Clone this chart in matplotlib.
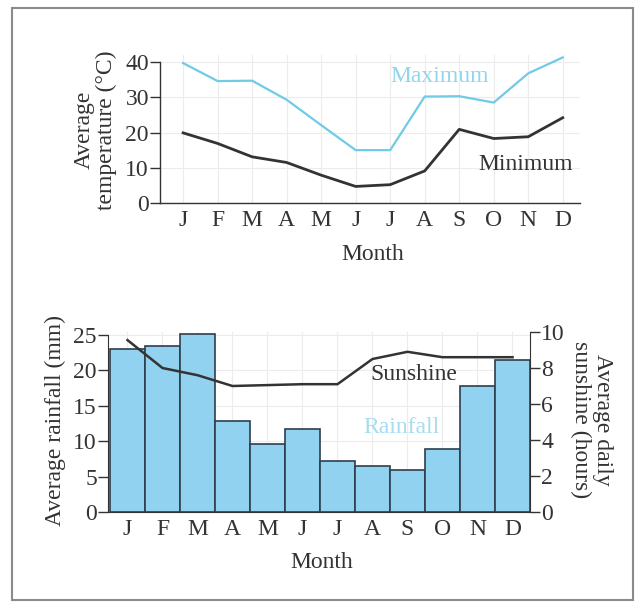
import matplotlib
matplotlib.use("Agg")
import matplotlib.pyplot as plt
from matplotlib.patches import Rectangle

plt.rcParams['font.family'] = ['Liberation Serif', 'DejaVu Serif']

months = ['J', 'F', 'M', 'A', 'M', 'J', 'J', 'A', 'S', 'O', 'N', 'D']
temp_max = [39.7, 34.6, 34.7, 29.3, 22.1, 15.0, 15.0, 30.2, 30.3, 28.5, 36.8, 41.3]
temp_min = [19.9, 16.9, 13.1, 11.5, 7.9, 4.7, 5.2, 9.1, 20.9, 18.3, 18.8, 24.2]
rainfall = [23.0, 23.4, 25.1, 12.8, 9.6, 11.7, 7.2, 6.5, 5.9, 8.9, 17.8, 21.4]
sunshine = [9.55, 8.0, 7.6, 7.0, 7.05, 7.1, 7.1, 8.5, 8.9, 8.6, 8.6, 8.6]
temp_ticks = [0, 10, 20, 30, 40]
rain_ticks = [0, 5, 10, 15, 20, 25]
sun_ticks = [0, 2, 4, 6, 8, 10]

W, H = 635, 604
fig = plt.figure(figsize=(W / 100, H / 100), dpi=100)

def fx(px):
    return px / W

def fy(py):
    return 1 - py / H

DARK = '#333333'
LBLUE = '#6fcbe6'
BARC = '#92d2f1'
GRID = '#ececec'
FS = 17
x = list(range(len(months)))

# ---------------- top chart ----------------
ax1 = fig.add_axes([fx(160), fy(203), fx(580) - fx(160), fy(55) - fy(203)])
ax1.plot(x, temp_max, color=LBLUE, lw=1.6)
ax1.plot(x, temp_min, color=DARK, lw=2.0)
ax1.set_xlim(-0.67, 11.5)
ax1.set_ylim(0, 42)
ax1.set_yticks(temp_ticks)
ax1.set_xticks(x)
ax1.set_xticklabels(months)
for s in ['top', 'right']:
    ax1.spines[s].set_visible(False)
ax1.spines['left'].set_bounds(0, 40)
for s in ['left', 'bottom']:
    ax1.spines[s].set_color(DARK)
    ax1.spines[s].set_linewidth(1.0)
ax1.tick_params(axis='y', length=7, width=1, color=DARK, labelsize=FS, labelcolor=DARK, pad=1)
ax1.tick_params(axis='x', length=0, labelsize=FS, labelcolor=DARK, pad=5)
ax1.grid(True, color=GRID, lw=0.8)
ax1.set_axisbelow(True)
ax1.text(6.0, 36.0, 'Maximum', color='#8fd6ee', fontsize=FS, ha='left', va='center')
ax1.text(8.55, 10.8, 'Minimum', color=DARK, fontsize=FS, ha='left', va='center')

fig.text(fx(84), fy(130), 'Average', rotation=90, fontsize=FS, color=DARK, ha='center', va='center')
fig.text(fx(106), fy(130), 'temperature (°C)', rotation=90, fontsize=FS, color=DARK, ha='center', va='center')
fig.text(fx(373), fy(255), 'Month', fontsize=FS, color=DARK, ha='center', va='center')

# ---------------- bottom chart ----------------
ax2 = fig.add_axes([fx(108), fy(512), fx(530) - fx(108), fy(332) - fy(512)])
ax2.bar(x, rainfall, width=1.0, color=BARC, edgecolor='#2e3e4c', linewidth=1.2, zorder=2)
ax2.set_xlim(-0.557, 11.5)
ax2.set_ylim(0, 25.4)
ax2.set_yticks(rain_ticks)
ax2.set_xticks(x)
ax2.set_xticklabels(months)
ax2.spines['top'].set_visible(False)
ax2.spines['right'].set_visible(False)
ax2.spines['left'].set_bounds(0, 25)
for s in ['left', 'bottom']:
    ax2.spines[s].set_color(DARK)
ax2.tick_params(axis='y', length=7, width=1, color=DARK, labelsize=FS, labelcolor=DARK, pad=1)
ax2.tick_params(axis='x', length=0, labelsize=FS, labelcolor=DARK, pad=5)
ax2.grid(True, color=GRID, lw=0.8, zorder=0)
ax2.set_axisbelow(True)

ax3 = ax2.twinx()
ax3.plot(x, sunshine, color=DARK, lw=1.8, zorder=3)
ax3.set_ylim(0, 10)
ax3.set_yticks(sun_ticks)
ax3.set_xlim(-0.557, 11.5)
for s in ['top', 'left', 'bottom']:
    ax3.spines[s].set_visible(False)
ax3.spines['right'].set_color(DARK)
ax3.tick_params(axis='y', length=7, width=1, color=DARK, labelsize=FS, labelcolor=DARK, pad=1)
ax3.text(6.95, 7.65, 'Sunshine', color=DARK, fontsize=FS, ha='left', va='center')
ax3.text(6.75, 4.7, 'Rainfall', color='#a6dcf1', fontsize=FS, ha='left', va='center')

fig.text(fx(55), fy(420), 'Average rainfall (mm)', rotation=90, fontsize=FS, color=DARK, ha='center', va='center')
fig.text(fx(603), fy(420), 'Average daily', rotation=270, fontsize=FS, color=DARK, ha='center', va='center')
fig.text(fx(581), fy(420), 'sunshine (hours)', rotation=270, fontsize=FS, color=DARK, ha='center', va='center')
fig.text(fx(322), fy(563), 'Month', fontsize=FS, color=DARK, ha='center', va='center')

# frame
fig.patches.append(Rectangle((fx(12), fy(600)), fx(633) - fx(12), fy(8) - fy(600),
                             transform=fig.transFigure, fill=False, edgecolor='#8a8a8a', lw=1.5))

fig.savefig('out.png', dpi=100)
